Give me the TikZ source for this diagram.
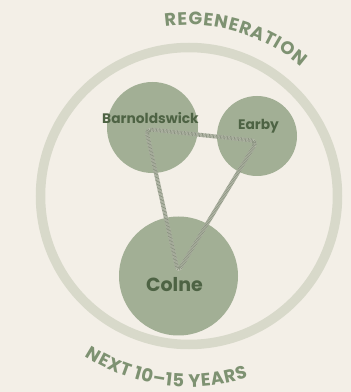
\documentclass[tikz,border=0pt]{standalone}
\usepackage{fontspec}
\setmainfont{Poppins}
\usetikzlibrary{decorations.text}
\definecolor{bg}{HTML}{F3EFE7}
\definecolor{ringcol}{HTML}{D8D9CA}
\definecolor{placecol}{HTML}{A2AF95}
\definecolor{labcol}{HTML}{4E6344}
\definecolor{titlecol}{HTML}{7E9272}
\definecolor{tricol}{HTML}{8C9482}
\definecolor{trilight}{HTML}{C4C6B8}
\tikzset{
  place/.style={circle, fill=placecol, draw=none, inner sep=0pt},
  lab/.style={text=labcol, font=\bfseries\fontsize{13.8}{14}\selectfont, inner sep=0pt, anchor=base},
  tribase/.style={draw=trilight, line width=4pt, rounded corners=6pt, opacity=0.8},
  tristripe/.style={draw=tricol, line width=4pt, rounded corners=6pt, dash pattern=on 0.7pt off 0.7pt},
  arctext/.style={decorate, decoration={text effects along path, text={#1},
     text effects/.cd, text along path, fit text to path,
     characters={text=titlecol, inner sep=0pt, font=\bfseries\fontsize{18}{18}\selectfont}}}
}
\begin{document}
\begin{tikzpicture}[x=1pt,y=1pt]
\fill[bg] (0,0) rectangle (351,392);
\useasboundingbox (0,0) rectangle (351,392);
\coordinate (O) at (189,196);
\draw[ringcol, line width=9.5pt] (O) circle[radius=148.5];
\node[place, minimum size=91pt] (barn) at (152.5,264.5) {};
\node[place, minimum size=80pt] (earby) at (257,256) {};
\node[place, minimum size=119pt] (colne) at (178.5,116) {};
\coordinate (tA) at (146,263);
\coordinate (tB) at (257,251);
\coordinate (tC) at (178,120);
\draw[tribase] (tA) -- (tB) -- (tC) -- cycle;
\draw[tristripe] (tA) -- (tB) -- (tC) -- cycle;
\node[lab] (lbarn) at (150.5,269) {Barnoldswick};
\node[lab] (learby) at (258.5,262) {Earby};
\node[lab, font=\bfseries\fontsize{19}{19}\selectfont] (lcolne) at (174.5,100) {Colne};
\path[shift={(O)}, arctext={REGENERATION}] (98:171) arc[start angle=98, end angle=49, radius=171];
\path[shift={(O)}, arctext={NEXT 10–15 YEARS}] (237:191) arc[start angle=237, end angle=288, radius=191];
\end{tikzpicture}
\end{document}
